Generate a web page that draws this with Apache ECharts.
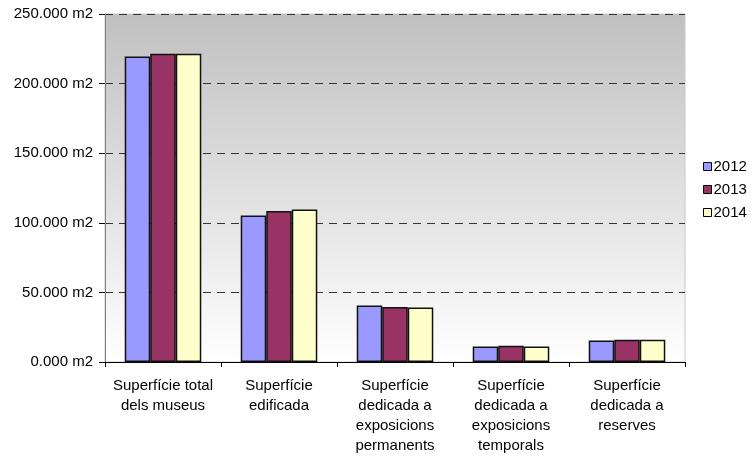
<!DOCTYPE html>
<html><head><meta charset="utf-8">
<script src="https://cdn.jsdelivr.net/npm/echarts@6/dist/echarts.min.js"></script>
<style>html,body{margin:0;padding:0;background:#fff}#c{width:754px;height:456px}</style>
</head><body><div id="c"></div>
<script>
const categories = ['Superfície total\ndels museus','Superfície\nedificada','Superfície\ndedicada a\nexposicions\npermanents','Superfície\ndedicada a\nexposicions\ntemporals','Superfície\ndedicada a\nreserves'];
const years = ['2012','2013','2014'];
const v2012 = [219500,105200,40500,11200,15500];
const v2013 = [221400,108400,39500,11600,15900];
const v2014 = [221400,109500,39100,11200,15900];
const colors = ['#9999FF','#993366','#FFFFCC'];
const seriesValues = [v2012, v2013, v2014];

const chart = echarts.init(document.getElementById('c'));
const font = 'Liberation Sans, Arial, sans-serif';
chart.setOption({
  animation:false,
  textStyle:{fontFamily:font},
  grid:{left:105,right:69,top:14,bottom:92,show:true,borderColor:'#c8c8c8',borderWidth:1,
    backgroundColor:{type:'linear',x:0,y:0,x2:0,y2:1,colorStops:[{offset:0,color:'#c0c0c0'},{offset:1,color:'#ffffff'}]}},
  legend:{orient:'vertical',left:703,top:158,itemWidth:8,itemHeight:8,itemGap:6,padding:0,
    textStyle:{fontFamily:font,fontSize:15,lineHeight:17,color:'#000',padding:[0,0,0,-3]},
    data:years.map((y,i)=>({name:y,icon:'rect',itemStyle:{borderColor:'#000',borderWidth:1}}))},
  xAxis:{type:'category',data:categories,
    axisLine:{lineStyle:{color:'#000',width:1}},
    axisTick:{show:true,length:5,lineStyle:{color:'#000'}},
    axisLabel:{fontFamily:font,fontSize:15,color:'#000',lineHeight:20,margin:14,interval:0}},
  yAxis:{type:'value',min:0,max:250000,interval:50000,
    axisLine:{show:true,lineStyle:{color:'#808080'}},
    axisTick:{show:true,length:6,lineStyle:{color:'#000'}},
    axisLabel:{fontFamily:font,fontSize:15,color:'#000',margin:12,
      formatter:v=>(v/1000).toFixed(0)+'.000 m2'},
    splitLine:{show:true,lineStyle:{color:'#333',type:[8,6],width:1}}},
  series:seriesValues.map((d,i)=>({name:years[i],type:'bar',data:d,barGap:'0%',barCategoryGap:'34%',
    itemStyle:{color:colors[i],borderColor:'#111',borderWidth:1.5}}))
});
</script></body></html>
